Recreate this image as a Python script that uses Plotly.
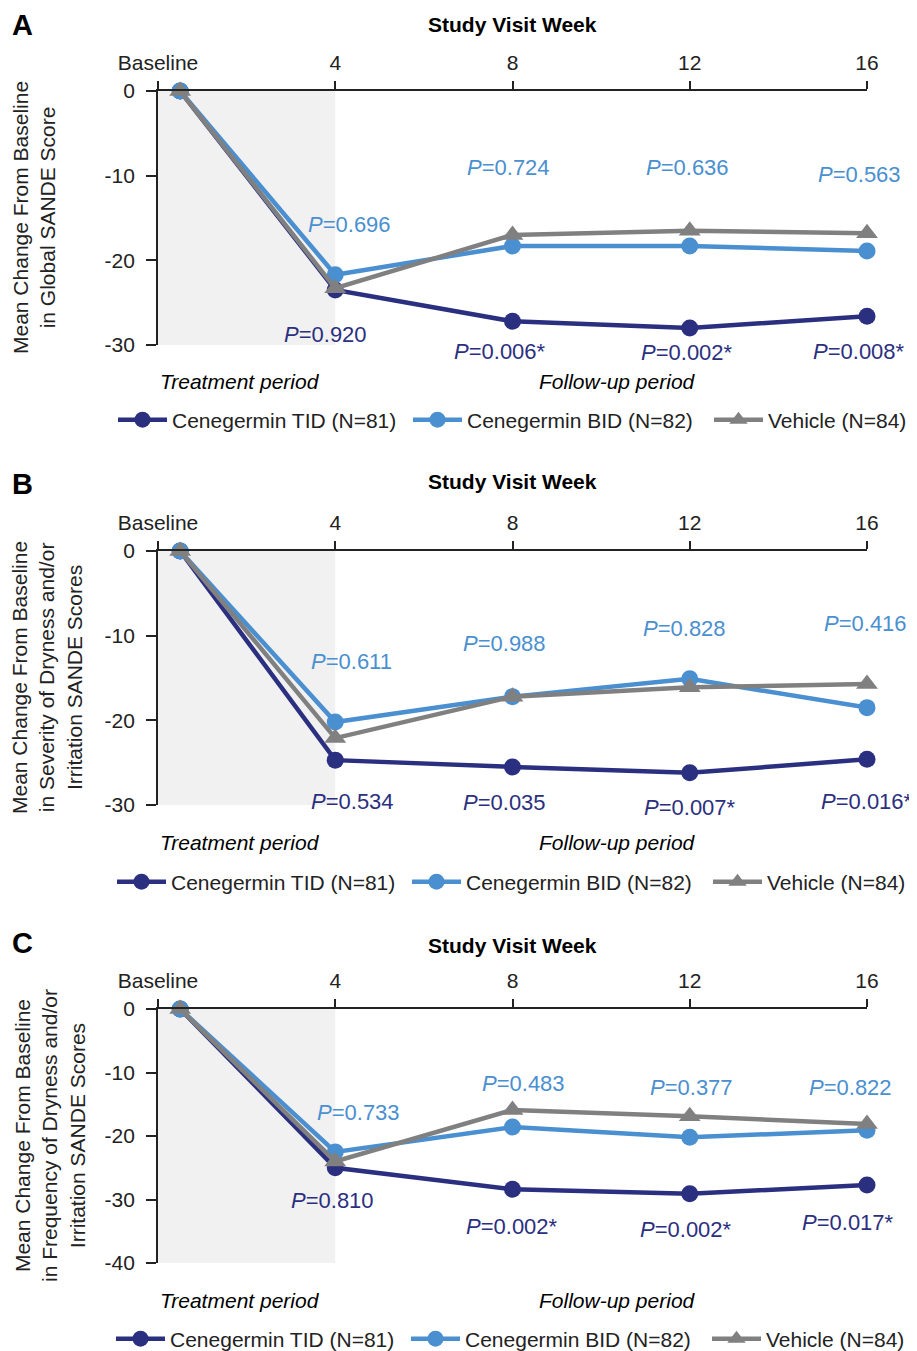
import plotly.graph_objects as go

# ---------------- data ----------------
weeks = [0.5, 4, 8, 12, 16]
x_tickvals = [0, 4, 8, 12, 16]
x_ticktext = ["Baseline", "4", "8", "12", "16"]

series_names = ["Cenegermin TID (N=81)", "Cenegermin BID (N=82)", "Vehicle (N=84)"]

# Panel A: Global SANDE score
a_tid = [0, -23.5, -27.2, -28.0, -26.6]
a_bid = [0, -21.7, -18.3, -18.3, -18.9]
a_veh = [0, -23.3, -17.0, -16.5, -16.8]
a_p_bid = ["0.696", "0.724", "0.636", "0.563"]
a_p_tid = ["0.920", "0.006*", "0.002*", "0.008*"]

# Panel B: Severity of dryness and/or irritation SANDE scores
b_tid = [0, -24.7, -25.5, -26.2, -24.6]
b_bid = [0, -20.2, -17.2, -15.1, -18.5]
b_veh = [0, -22.1, -17.2, -16.1, -15.7]
b_p_bid = ["0.611", "0.988", "0.828", "0.416"]
b_p_tid = ["0.534", "0.035", "0.007*", "0.016*"]

# Panel C: Frequency of dryness and/or irritation SANDE scores
c_tid = [0, -25.0, -28.4, -29.1, -27.7]
c_bid = [0, -22.5, -18.6, -20.2, -19.1]
c_veh = [0, -24.0, -15.9, -16.9, -18.1]
c_p_bid = ["0.733", "0.483", "0.377", "0.822"]
c_p_tid = ["0.810", "0.002*", "0.002*", "0.017*"]

ab_ticks = [0, -10, -20, -30]
c_ticks = [0, -10, -20, -30, -40]

# ---------------- styling ----------------
PAGE_OFF = 8                      # default page (body) margin
W, H = 917 - PAGE_OFF, 1351 - PAGE_OFF
X0, X1 = 158, 867                 # plot area left/right in page pixels
FONT = "Liberation Sans, Arial, Helvetica, sans-serif"
C_TID = "#2b2f80"
C_BID = "#4a8fd0"
C_VEH = "#808080"
TXT = "#222222"
FS = 21


def fy(px):
    return 1 - (px - PAGE_OFF) / H


def fx(px):
    return (px - PAGE_OFF) / W


def week_px(w):
    return X0 + w * (X1 - X0) / 16.0


panels = [
    dict(letter="A", tid=a_tid, bid=a_bid, veh=a_veh, pb=a_p_bid, pt=a_p_tid,
         ticks=ab_ticks, top=91, bot=345, ymin=-30,
         title="Mean Change From Baseline<br>in Global SANDE Score", title_x=34,
         letter_y=25, svw_y=25, period_y=382, legend_y=420, legend_x=113,
         pb_pos=[(4.33, -15.8), (7.9, -9.0), (11.94, -9.0), (15.84, -9.9)],
         pt_pos=[(3.77, -28.8), (7.72, -30.8), (11.94, -30.9), (15.82, -30.8)]),
    dict(letter="B", tid=b_tid, bid=b_bid, veh=b_veh, pb=b_p_bid, pt=b_p_tid,
         ticks=ab_ticks, top=551, bot=805, ymin=-30,
         title="Mean Change From Baseline<br>in Severity of Dryness and/or<br>Irritation SANDE Scores",
         title_x=47, letter_y=484, svw_y=481, period_y=842, legend_y=882, legend_x=112,
         pb_pos=[(4.36, -13.1), (7.82, -10.9), (11.89, -9.1), (15.97, -8.6)],
         pt_pos=[(4.38, -29.6), (7.82, -29.7), (12.0, -30.3), (16.0, -29.6)]),
    dict(letter="C", tid=c_tid, bid=c_bid, veh=c_veh, pb=c_p_bid, pt=c_p_tid,
         ticks=c_ticks, top=1009, bot=1263, ymin=-40,
         title="Mean Change From Baseline<br>in Frequency of Dryness and/or<br>Irritation SANDE Scores",
         title_x=50, letter_y=943, svw_y=945, period_y=1300, legend_y=1339, legend_x=111,
         pb_pos=[(4.52, -16.3), (8.25, -11.8), (12.04, -12.3), (15.62, -12.3)],
         pt_pos=[(3.93, -30.2), (7.99, -34.2), (11.92, -34.7), (15.58, -33.7)]),
]

fig = go.Figure()
annotations = []
shapes = []
layout = {}

for i, p in enumerate(panels):
    sfx = "" if i == 0 else str(i + 1)
    xa, ya = "x" + sfx, "y" + sfx
    lg = "legend" + sfx

    def val_px(v, p=p):
        return p["top"] + (v / p["ymin"]) * (p["bot"] - p["top"])

    for name, vals, col, sym, size, lw in [
        (series_names[0], p["tid"], C_TID, "circle", 17, 231),
        (series_names[1], p["bid"], C_BID, "circle", 17, 237),
        (series_names[2], p["veh"], C_VEH, "triangle-up", 19, 150),
    ]:
        fig.add_trace(go.Scatter(
            x=weeks, y=vals, name=name, mode="lines+markers",
            line=dict(color=col, width=4.5),
            marker=dict(color=col, size=size, symbol=sym),
            xaxis=xa, yaxis=ya, legend=lg, legendwidth=lw, cliponaxis=False,
        ))

    layout["xaxis" + sfx] = dict(
        domain=[fx(X0), fx(X1)], range=[0, 16], side="top", anchor=ya,
        tickvals=x_tickvals, ticktext=x_ticktext, ticks="outside", ticklen=8,
        tickwidth=1.5, tickcolor=TXT, showline=True, linecolor=TXT, linewidth=1.8,
        showgrid=False, zeroline=False, ticklabelstandoff=3,
        tickfont=dict(size=FS, color=TXT, family=FONT), fixedrange=True,
    )
    layout["yaxis" + sfx] = dict(
        domain=[fy(p["bot"]), fy(p["top"])], range=[p["ymin"], 0], anchor=xa,
        tickvals=p["ticks"], ticktext=[str(t) for t in p["ticks"]], ticks="outside",
        ticklen=10, tickwidth=1.5, tickcolor=TXT, showline=True, linecolor=TXT,
        linewidth=1.8, showgrid=False, zeroline=False, ticklabelstandoff=7,
        tickfont=dict(size=FS, color=TXT, family=FONT), fixedrange=True,
    )
    layout[lg] = dict(
        orientation="h", x=fx(p["legend_x"]), xanchor="left",
        y=fy(p["legend_y"]), yanchor="middle", font=dict(size=FS, color=TXT, family=FONT),
        entrywidthmode="pixels", itemwidth=49,
        bgcolor="rgba(0,0,0,0)",
    )

    shapes.append(dict(type="rect", xref=xa, yref=ya, x0=0, x1=4, y0=p["ymin"], y1=0,
                       fillcolor="#f1f1f1", line=dict(width=0), layer="below"))

    annotations.append(dict(text="<b>%s</b>" % p["letter"], xref="paper", yref="paper",
                            x=fx(22), y=fy(p["letter_y"]), xanchor="center", yanchor="middle",
                            showarrow=False, font=dict(size=29, color="#000", family=FONT)))
    annotations.append(dict(text="<b>Study Visit Week</b>", xref="paper", yref="paper",
                            x=fx(week_px(8)), y=fy(p["svw_y"]), xanchor="center", yanchor="middle",
                            showarrow=False, font=dict(size=FS, color="#000", family=FONT)))
    annotations.append(dict(text=p["title"], xref="paper", yref="paper", textangle=-90,
                            x=fx(p["title_x"]), y=fy((p["top"] + p["bot"]) / 2),
                            xanchor="center", yanchor="middle", showarrow=False,
                            font=dict(size=FS, color=TXT, family=FONT)))
    for txt, xv in [("Treatment period", 1.85), ("Follow-up period", 10.36)]:
        annotations.append(dict(text="<i>%s</i>" % txt, xref="paper", yref="paper",
                                x=fx(week_px(xv)), y=fy(p["period_y"]), xanchor="center",
                                yanchor="middle", showarrow=False,
                                font=dict(size=FS, color="#000", family=FONT)))
    for labels, pos, col in [(p["pb"], p["pb_pos"], C_BID), (p["pt"], p["pt_pos"], C_TID)]:
        for lab, (xv, yv) in zip(labels, pos):
            annotations.append(dict(text="<i>P</i>=" + lab, xref="paper", yref="paper",
                                    x=fx(week_px(xv)), y=fy(val_px(yv)),
                                    xanchor="center", yanchor="middle", showarrow=False,
                                    font=dict(size=22, color=col, family=FONT)))

fig.update_layout(
    width=W, height=H, margin=dict(l=0, r=0, t=0, b=0, autoexpand=False),
    paper_bgcolor="white", plot_bgcolor="white",
    font=dict(family=FONT, size=FS, color=TXT),
    annotations=annotations, shapes=shapes, **layout,
)

fig.write_html("out.html")
